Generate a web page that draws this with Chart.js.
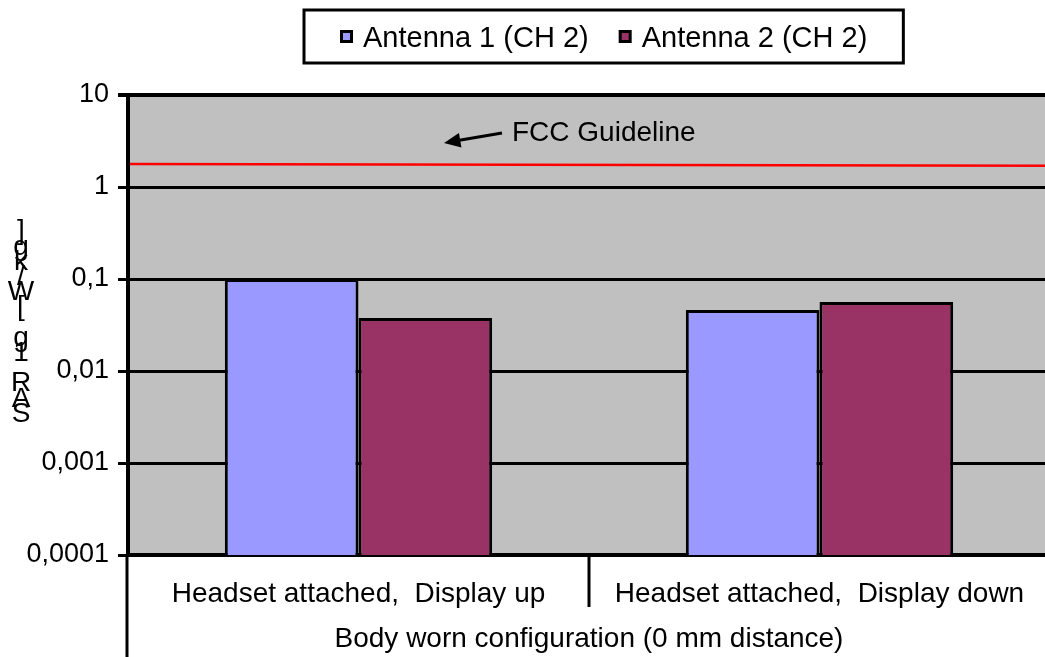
<!DOCTYPE html>
<html>
<head>
<meta charset="utf-8">
<script src="https://cdn.jsdelivr.net/npm/chart.js@4/dist/chart.umd.min.js"></script>
<style>
  html, body { margin: 0; padding: 0; background: #fff; overflow: hidden; }
  #wrap { width: 1055px; height: 657px; }
</style>
</head>
<body>
<div id="wrap"><canvas id="sar"></canvas></div>
<script>
const categories = ["Headset attached,  Display up", "Headset attached,  Display down"];
const groupLabel = "Body worn configuration (0 mm distance)";
const seriesNames = ["Antenna 1 (CH 2)", "Antenna 2 (CH 2)"];
const antenna1Values = [0.1, 0.046];
const antenna2Values = [0.0377, 0.0562];
const fccLine = [1.78, 1.70]; // bord gauche, bord droit
const fccText = "FCC Guideline";
const yTickValues = [0.0001, 0.001, 0.01, 0.1, 1, 10];
const yTickLabels = ["0,0001", "0,001", "0,01", "0,1", "1", "10"];
const yTitle = "SAR 1g [W/kg]";

const FONT = '"Liberation Sans", Arial, sans-serif';
const colors = ["#9999FF", "#993366"];

// fond gris, ligne FCC, légende, titre vertical, annotation
const decor = {
  id: "decor",
  beforeDraw(chart) {
    const { ctx, chartArea: a } = chart;
    ctx.save();
    ctx.fillStyle = "#C0C0C0";
    ctx.fillRect(a.left, a.top, a.right - a.left, a.bottom - a.top);
    ctx.restore();
  },
  afterDatasetsDraw(chart) {
    const { ctx, chartArea: a } = chart;
    const y = chart.scales.y;
    ctx.save();
    ctx.strokeStyle = "#FF0000";
    ctx.lineWidth = 2.5;
    ctx.beginPath();
    ctx.moveTo(a.left + 2, y.getPixelForValue(fccLine[0]));
    ctx.lineTo(a.right, y.getPixelForValue(fccLine[1]));
    ctx.stroke();
    ctx.restore();
  },
  afterDraw(chart) {
    const { ctx, chartArea: a } = chart;
    const x = chart.scales.x;
    ctx.save();
    ctx.strokeStyle = "#000";
    ctx.fillStyle = "#000";

    // séparateurs sous l'axe des catégories
    const mid = (x.getPixelForTick(0) + x.getPixelForTick(1)) / 2;
    ctx.lineWidth = 3;
    ctx.beginPath();
    ctx.moveTo(a.left - 1, a.bottom); ctx.lineTo(a.left - 1, chart.height);
    ctx.moveTo(mid, a.bottom); ctx.lineTo(mid, a.bottom + 52);
    ctx.moveTo(a.right, a.bottom); ctx.lineTo(a.right, chart.height);
    ctx.stroke();

    ctx.font = "28px " + FONT;
    ctx.textAlign = "center";
    ctx.textBaseline = "alphabetic";
    ctx.fillText(groupLabel, (a.left + a.right) / 2, 647);

    // annotation
    const tip = [444, 143], tail = [502, 133];
    ctx.lineWidth = 3;
    ctx.beginPath();
    ctx.moveTo(tail[0], tail[1]); ctx.lineTo(tip[0] + 8, tip[1] - 1.4);
    ctx.stroke();
    const ang = Math.atan2(tip[1] - tail[1], tip[0] - tail[0]);
    ctx.beginPath();
    ctx.moveTo(tip[0], tip[1]);
    ctx.lineTo(tip[0] - 18 * Math.cos(ang - 0.42), tip[1] - 18 * Math.sin(ang - 0.42));
    ctx.lineTo(tip[0] - 18 * Math.cos(ang + 0.42), tip[1] - 18 * Math.sin(ang + 0.42));
    ctx.closePath();
    ctx.fill();
    ctx.textAlign = "left";
    ctx.fillText(fccText, 512, 141);

    // titre de l'axe y, lettres empilées
    ctx.textAlign = "center";
    ctx.textBaseline = "middle";
    [...yTitle].forEach((ch, i) => {
      if (ch !== " ") ctx.fillText(ch, 21, 414 - i * 15.2);
    });

    // légende encadrée
    ctx.font = "29px " + FONT;
    const box = 13, gap = 10, itemGap = 30, pad = 36, left = 304;
    const widths = seriesNames.map(n => ctx.measureText(n).width);
    const total = widths.reduce((s, w) => s + box + gap + w, 0) + itemGap;
    ctx.lineWidth = 3;
    ctx.strokeRect(left, 10, total + 2 * pad, 53);
    let cx = left + pad;
    ctx.textAlign = "left";
    ctx.textBaseline = "alphabetic";
    seriesNames.forEach((n, i) => {
      ctx.fillStyle = "#000";
      ctx.fillRect(cx, 30, box, box);
      ctx.fillStyle = colors[i];
      ctx.fillRect(cx + 3, 33, box - 6, box - 6);
      ctx.fillStyle = "#000";
      ctx.fillText(n, cx + box + gap, 47);
      cx += box + gap + widths[i] + itemGap;
    });
    ctx.restore();
  }
};

new Chart(document.getElementById("sar"), {
  type: "bar",
  data: {
    labels: categories,
    datasets: [
      {
        label: seriesNames[0],
        data: antenna1Values,
        backgroundColor: colors[0],
        borderColor: "#000",
        borderWidth: 3
      },
      {
        label: seriesNames[1],
        data: antenna2Values,
        backgroundColor: colors[1],
        borderColor: "#000",
        borderWidth: 3
      }
    ]
  },
  options: {
    responsive: true,
    maintainAspectRatio: false,
    animation: false,
    datasets: { bar: { categoryPercentage: 0.58, barPercentage: 1.0 } },
    layout: { padding: { top: 95, right: 5, left: 0, bottom: 0 } },
    plugins: {
      legend: { display: false },
      tooltip: { enabled: false }
    },
    scales: {
      x: {
        grid: { display: false, drawTicks: false },
        border: { display: true, color: "#000", width: 4 },
        ticks: { color: "#000", font: { family: FONT, size: 28 }, padding: 22, maxRotation: 0 },
        afterFit: (s) => { s.height = 102; }
      },
      y: {
        type: "logarithmic",
        min: yTickValues[0],
        max: yTickValues[yTickValues.length - 1],
        afterBuildTicks: (s) => { s.ticks = yTickValues.map(v => ({ value: v })); },
        grid: {
          color: "#000",
          lineWidth: (c) => (c.index === yTickValues.length - 1 ? 4 : 3),
          tickLength: 10
        },
        border: { display: true, color: "#000", width: 4 },
        ticks: {
          color: "#000",
          font: { family: FONT, size: 27 },
          padding: 9,
          callback: (v, i) => yTickLabels[i]
        },
        afterFit: (s) => { s.width = 128; }
      }
    }
  },
  plugins: [decor]
});
</script>
</body>
</html>
